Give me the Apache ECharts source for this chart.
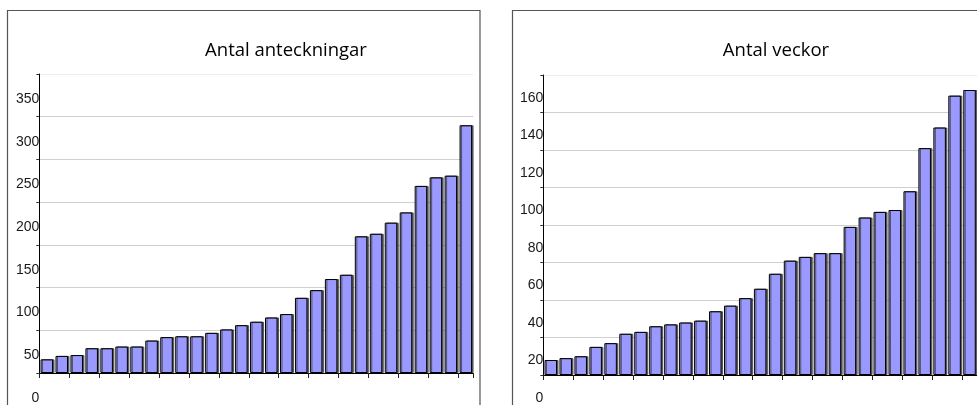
<!DOCTYPE html>
<html>
<head>
<meta charset="utf-8">
<script src="https://cdn.jsdelivr.net/npm/echarts@6/dist/echarts.min.js"></script>
<style>
  html, body { margin: 0; padding: 0; background: #fff; }
  #chart { width: 977px; height: 405px; }
</style>
</head>
<body>
<div id="chart"></div>
<script>
// One category per person, sorted ascending
const categories = Array.from({ length: 29 }, (_, i) => String(i + 1));

// Number of notes per person
const notesTitle = 'Antal anteckningar';
const notesValues = [16, 20, 21, 29, 29, 31, 31, 38, 42, 43, 43, 47, 51, 56, 60,
  65, 69, 88, 97, 110, 115, 160, 163, 176, 188, 219, 229, 231, 290];
const notesTicks = { min: 0, max: 350, interval: 50 };

// Number of weeks per person
const weeksTitle = 'Antal veckor';
const weeksValues = [8, 9, 10, 15, 17, 22, 23, 26, 27, 28, 29, 34, 37, 41, 46,
  54, 61, 63, 65, 65, 79, 84, 87, 88, 98, 121, 132, 149, 152];
const weeksTicks = { min: 0, max: 160, interval: 20 };

const chart = echarts.init(document.getElementById('chart'), null, { renderer: 'canvas' });

const labelFont = {
  fontFamily: '"Liberation Sans", Arial, sans-serif',
  fontSize: 14,
  color: '#1a1a1a'
};

function gridColors(n) {
  const c = [];
  for (let i = 0; i < n; i++) c.push(i === n - 1 ? '#ececec' : '#cfcfcf');
  return c;
}

function yAxis(gridIndex, ticks, pad) {
  const n = Math.round((ticks.max - ticks.min) / ticks.interval) + 1;
  return {
    type: 'value',
    gridIndex,
    min: ticks.min,
    max: ticks.max,
    interval: ticks.interval,
    axisLine: { show: true, lineStyle: { color: '#000', width: 1 } },
    axisTick: { show: true, length: 3, lineStyle: { color: '#333' } },
    splitLine: { show: true, lineStyle: { color: gridColors(n), width: 1 } },
    axisLabel: Object.assign({
      align: 'right',
      verticalAlign: 'top',
      margin: 0,
      padding: [pad, 0, 0, 0]
    }, labelFont)
  };
}

function xAxis(gridIndex) {
  return {
    type: 'category',
    gridIndex,
    data: categories,
    boundaryGap: true,
    axisLine: { show: true, lineStyle: { color: '#000', width: 1 } },
    axisTick: { show: true, length: 5, alignWithLabel: false, lineStyle: { color: '#222' } },
    axisLabel: { show: false },
    splitLine: { show: false }
  };
}

const barStyle = {
  color: '#9999ff',
  borderColor: '#000',
  borderWidth: 1,
  shadowColor: 'rgba(70,70,70,0.85)',
  shadowOffsetX: 1.5,
  shadowOffsetY: 0,
  shadowBlur: 0
};

const titleStyle = {
  fontFamily: '"Open Sans", "Noto Sans", sans-serif',
  fontSize: 18.5,
  fontWeight: 'normal',
  color: '#000'
};

chart.setOption({
  animation: false,
  backgroundColor: '#fff',
  title: [
    { text: notesTitle, left: 286, top: 41, textAlign: 'center', textStyle: titleStyle, padding: 0 },
    { text: weeksTitle, left: 776, top: 41, textAlign: 'center', textStyle: titleStyle, padding: 0 }
  ],
  graphic: [
    { type: 'rect', shape: { x: 7.5, y: 10.5, width: 472.5, height: 420 },
      style: { fill: 'none', stroke: '#555', lineWidth: 1.2 }, z: -1 },
    { type: 'rect', shape: { x: 512.5, y: 10.5, width: 500, height: 420 },
      style: { fill: 'none', stroke: '#555', lineWidth: 1.2 }, z: -1 }
  ],
  grid: [
    { left: 39.3, top: 74, width: 434, height: 302 },
    { left: 543.3, top: 75, width: 435, height: 304 }
  ],
  xAxis: [xAxis(0), xAxis(1)],
  yAxis: [yAxis(0, notesTicks, 18), yAxis(1, weeksTicks, 16)],
  series: [
    { type: 'bar', xAxisIndex: 0, yAxisIndex: 0, data: notesValues, barWidth: 12.5, itemStyle: barStyle },
    { type: 'bar', xAxisIndex: 1, yAxisIndex: 1, data: weeksValues, barWidth: 12.5, itemStyle: barStyle }
  ]
});
</script>
</body>
</html>
